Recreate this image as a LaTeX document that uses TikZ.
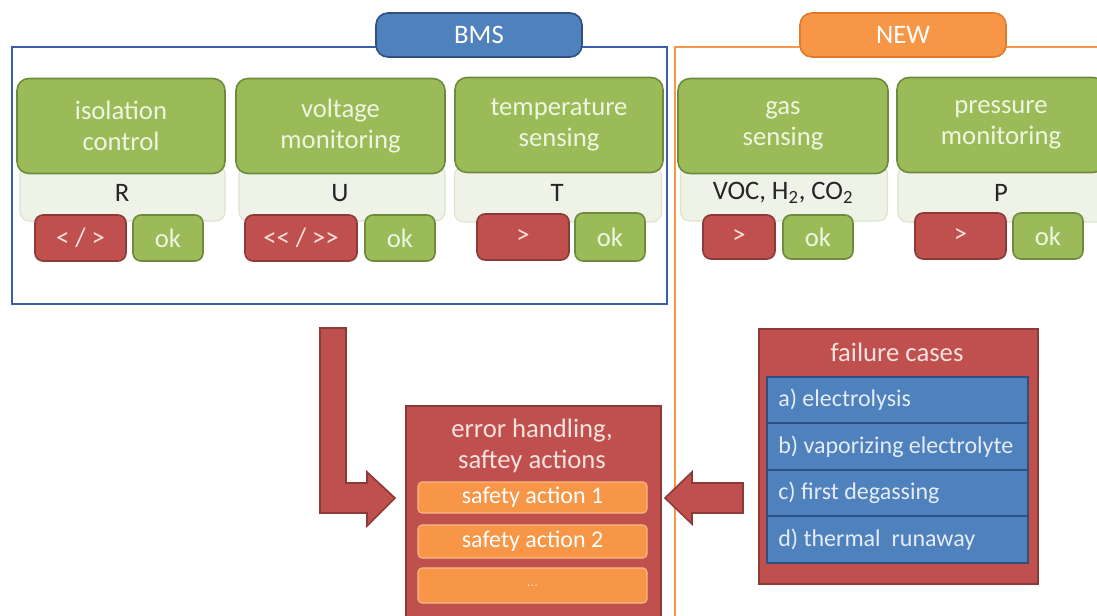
\documentclass[tikz,border=0pt]{standalone}
\usepackage{fontspec}
\setmainfont{Carlito}
\definecolor{grn}{HTML}{9BBB59}
\definecolor{grnD}{HTML}{6E8B3D}
\definecolor{rd}{HTML}{C0504D}
\definecolor{rdD}{HTML}{8C3A38}
\definecolor{blu}{HTML}{4F81BD}
\definecolor{bluD}{HTML}{2F5080}
\definecolor{frameB}{HTML}{3B5EAB}
\definecolor{org}{HTML}{F79646}
\definecolor{orgD}{HTML}{E07A2A}
\definecolor{orgL}{HTML}{F9B888}
\definecolor{under}{HTML}{EEF2E7}
\definecolor{underD}{HTML}{DCE3CF}
\definecolor{txtG}{HTML}{EEF5E0}
\definecolor{txtR}{HTML}{F8E2E0}
\definecolor{txtB}{HTML}{E4ECF7}
\tikzset{
  wh/.style 2 args={minimum width=#1*0.75pt, minimum height=#2*0.75pt},
  base/.style={inner sep=0pt, align=center, font=\fontsize{20}{23.5}\selectfont},
  greenbox/.style={base, rounded corners=9pt, fill=grn, draw=grnD, line width=1.2pt, text=txtG},
  underbox/.style={base, rounded corners=7pt, fill=under, draw=underD, line width=0.8pt},
  vallabel/.style={base, text=black!85},
  redbtn/.style={base, rounded corners=6pt, fill=rd, draw=rdD, line width=1.2pt, text=txtR},
  okbtn/.style={base, rounded corners=6pt, fill=grn, draw=grnD, line width=1.2pt, text=txtG},
  tagbox/.style={base, rounded corners=9pt, line width=1.2pt, text=white},
  redblock/.style={fill=rd, draw=rdD, line width=1.2pt},
  safebox/.style={base, rounded corners=3pt, fill=org, draw=orgL, line width=0.8pt, text=white, font=\fontsize{18}{22}\selectfont},
  casebox/.style={base, fill=blu, draw=bluD, line width=1.2pt, minimum width=261*0.75pt},
  casetext/.style={base, text=txtB, anchor=west, font=\fontsize{18}{22}\selectfont},
  blockarrow/.style={fill=rd, draw=rdD, line width=1.2pt, line join=miter},
}
\begin{document}
\begin{tikzpicture}[x=0.75pt, y=-0.75pt]
\useasboundingbox (0,0) rectangle (1097,615);
\fill[white] (0,0) rectangle (1097,615);

% frames
\draw[frameB, line width=1.5pt] (12,47) rectangle (667,304);
\draw[org, line width=1.5pt] (1105,47) -- (675,47) -- (675,625);
\node[tagbox, wh={206}{44}, fill=blu, draw=bluD] (bms) at (479,35) {BMS};
\node[tagbox, wh={206}{44}, fill=org, draw=orgD] (new) at (903,35) {NEW};

% module 1
\node[underbox, wh={205}{56}] (u1) at (122.5,193) {};
\node[greenbox, wh={208}{95}] (g1) at (121,126) {isolation\\control};
\node[vallabel] (l1) at (122,193) {R};
\node[redbtn, wh={91}{46}] (r1) at (80.5,238) {{<} / {>}};
\node[okbtn, wh={70}{46}] (o1) at (168,238) {ok};

% module 2
\node[underbox, wh={206}{56}] (u2) at (342,193) {};
\node[greenbox, wh={209}{95}] (g2) at (340.5,126) {voltage\\monitoring};
\node[vallabel] (l2) at (340,193) {U};
\node[redbtn, wh={112}{46}] (r2) at (301,238) {{<}{<} / {>}{>}};
\node[okbtn, wh={70}{46}] (o2) at (400,238) {ok};

% module 3
\node[underbox, wh={207}{56}] (u3) at (558,194) {};
\node[greenbox, wh={208}{95}] (g3) at (559,125) {temperature\\sensing};
\node[vallabel] (l3) at (557,193) {T};
\node[redbtn, wh={92}{46}] (r3) at (523,237) {>};
\node[okbtn, wh={70}{48}] (o3) at (610,237) {ok};

% module 4
\node[underbox, wh={207}{56}] (u4) at (784,193) {};
\node[greenbox, wh={210}{95}] (g4) at (783,126) {gas\\sensing};
\node[vallabel] (l4) at (783,193) {VOC, H\textsubscript{2}, CO\textsubscript{2}};
\node[redbtn, wh={72}{44}] (r4) at (739,237) {>};
\node[okbtn, wh={70}{44}] (o4) at (818,237) {ok};

% module 5
\node[underbox, wh={208}{56}] (u5) at (1002,194) {};
\node[greenbox, wh={208}{95}] (g5) at (1001,125) {pressure\\monitoring};
\node[vallabel] (l5) at (1001,193) {P};
\node[redbtn, wh={91}{46}] (r5) at (960.5,236) {>};
\node[okbtn, wh={70}{46}] (o5) at (1048,236) {ok};

% error handling block
\node[redblock, inner sep=0pt, anchor=north west, wh={255}{220}] (err) at (405,405) {};
\node[base, text=txtR] (errt) at (532,446) {error handling,\\saftey actions};
\node[safebox, wh={229}{31}] (s1) at (532.5,497.5) {safety action 1};
\node[safebox, wh={229}{33}] (s2) at (532.5,541.5) {safety action 2};
\node[safebox, wh={229}{35}, font=\fontsize{11}{13}\selectfont, text=orgL!60!white] (s3) at (532.5,585.5) {...};

% failure cases block
\node[redblock, inner sep=0pt, anchor=north west, wh={279}{255}] (fail) at (758,328) {};
\node[base, text=txtR] (failt) at (897,352) {failure cases};
\node[casebox, minimum height=46*0.75pt] (ca) at (897.5,400) {};
\node[casebox, minimum height=47*0.75pt] (cb) at (897.5,446.5) {};
\node[casebox, minimum height=46*0.75pt] (cc) at (897.5,493) {};
\node[casebox, minimum height=47*0.75pt] (cd) at (897.5,539.5) {};
\node[casetext] (ta) at (778,400) {a) electrolysis};
\node[casetext] (tb) at (778,446.5) {b) vaporizing electrolyte};
\node[casetext] (tc) at (778,493) {c) first degassing};
\node[casetext] (td) at (778,539.5) {d) thermal\ \ runaway};

% block arrows
\draw[blockarrow] (320,328) -- (346,328) -- (346,483) -- (367,483) -- (367,472)
  -- (395,498) -- (367,526) -- (367,513) -- (320,513) -- cycle;
\draw[blockarrow] (743,483) -- (692,483) -- (692,472) -- (665,498)
  -- (692,524) -- (692,513) -- (743,513) -- cycle;
\end{tikzpicture}
\end{document}
